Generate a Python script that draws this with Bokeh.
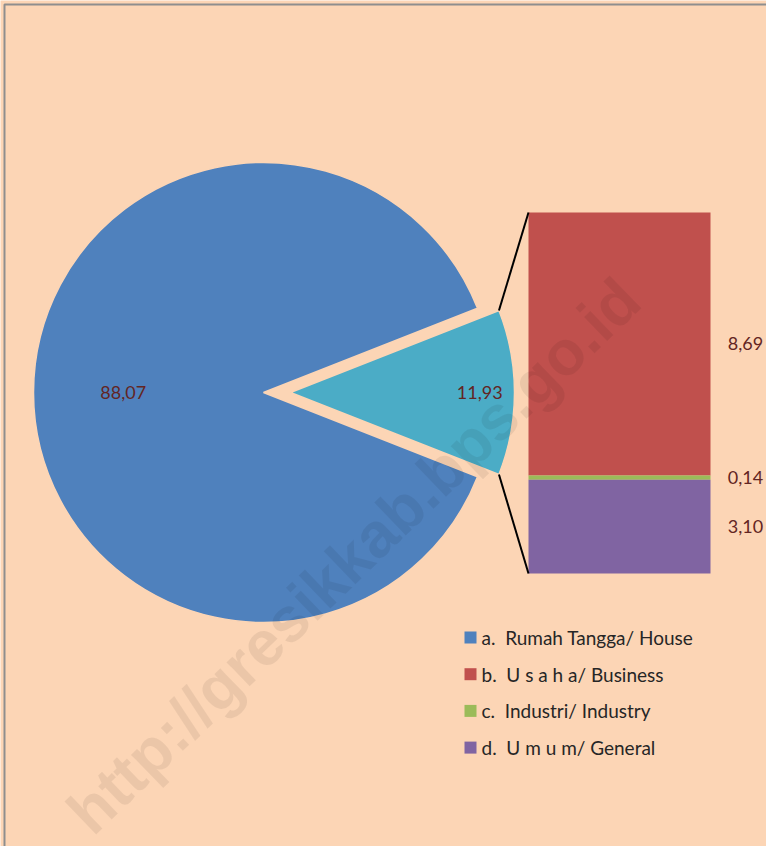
import math
from bokeh.plotting import figure
from bokeh.models import ColumnDataSource, Range1d, BoxAnnotation
from bokeh.core.properties import value
from bokeh.embed import file_html
from bokeh.resources import INLINE

# ---------------- data ----------------
pie_categories = ["Rumah Tangga/ House", "Lainnya/ Others"]
pie_values = [88.07, 11.93]
bar_categories = ["U s a h a/ Business", "Industri/ Industry", "U m u m/ General"]
bar_values = [8.69, 0.14, 3.10]          # top to bottom in the stacked bar
legend_labels = ["a.\u00a0 Rumah Tangga/ House", "b.\u00a0 U s a h a/ Business",
                 "c.\u00a0 Industri/ Industry", "d.\u00a0 U m u m/ General"]
watermark_text = "http://gresikkab.bps.go.id"

# ---------------- styles ----------------
BG = "#FCD5B5"
pie_colors = ["#4F81BD", "#4BACC6"]
bar_colors = ["#C0504D", "#9BBB59", "#8064A2"]
legend_colors = [pie_colors[0]] + bar_colors
LABEL_COLOR = "#632523"
FONT = "Lato"

W, H = 766, 846


def fx(rx):
    return rx


def fy(ry):
    return H - ry


def fmt(v):
    return f"{v:.2f}".replace(".", ",")


p = figure(width=W, height=H, x_range=Range1d(0, W), y_range=Range1d(0, H),
           output_backend="svg", toolbar_location=None, min_border=0)
p.axis.visible = False
p.grid.visible = False
p.outline_line_color = None
p.background_fill_color = BG
p.border_fill_color = BG

# frame border (top and left visible)
p.add_layout(BoxAnnotation(left=fx(4), top=fy(4), right=fx(2000), bottom=fy(2000),
                           fill_color=None, fill_alpha=0, line_color="#8E8E8E",
                           line_alpha=1.0, line_width=2))

# ---------------- pie ----------------
total = sum(pie_values)
half = math.pi * pie_values[1] / total
cx, cy = fx(263), fy(392)
R = 230
explode = 27
r2 = 224
pie_src = ColumnDataSource(dict(
    x=[cx, cx + explode], y=[cy, cy], r=[R, r2],
    start=[half, -half], end=[2 * math.pi - half, half],
    color=pie_colors, cat=pie_categories))
p.wedge(x="x", y="y", radius="r", start_angle="start", end_angle="end",
        fill_color="color", line_color=BG, line_width=1.5, source=pie_src)

# pie labels
pie_lab = ColumnDataSource(dict(
    x=[cx - 0.61 * R, cx + explode + 0.845 * r2], y=[cy, cy],
    t=[fmt(v) for v in pie_values]))
p.text(x="x", y="y", text="t", source=pie_lab, text_align="center",
       text_baseline="middle", text_font=value(FONT), text_font_size="18px",
       text_color=LABEL_COLOR)

# ---------------- stacked bar ----------------
bx0, bx1 = fx(528), fx(710)
btop, bbot = fy(212), fy(573)
scale = (btop - bbot) / sum(bar_values)
tops, bottoms = [], []
acc = btop
for v in bar_values:
    tops.append(acc)
    acc -= v * scale
    bottoms.append(acc)
bar_src = ColumnDataSource(dict(left=[bx0] * 3, right=[bx1] * 3, top=tops,
                                bottom=bottoms, color=bar_colors,
                                cat=bar_categories))
p.quad(left="left", right="right", top="top", bottom="bottom",
       fill_color="color", line_color=None, source=bar_src)

bar_lab = ColumnDataSource(dict(
    x=[fx(745)] * 3, y=[(t + b) / 2 for t, b in zip(tops, bottoms)],
    t=[fmt(v) for v in bar_values]))
p.text(x="x", y="y", text="t", source=bar_lab, text_align="center",
       text_baseline="middle", text_font=value(FONT), text_font_size="18px",
       text_color=LABEL_COLOR)

# connector lines from exploded slice to bar
ex = cx + explode + r2 * math.cos(half)
p.segment(x0=[ex, ex], y0=[cy + r2 * math.sin(half), cy - r2 * math.sin(half)],
          x1=[bx0, bx0], y1=[btop, bbot], line_color="black", line_width=2)

# ---------------- legend ----------------
leg_y = [fy(637 + i * 36.7) for i in range(len(legend_labels))]
p.rect(x=[fx(470)] * 4, y=leg_y, width=12, height=12,
       fill_color=legend_colors, line_color=None)
p.text(x=[fx(481)] * 4, y=leg_y, text=legend_labels, text_align="left",
       text_baseline="middle", text_font=value(FONT), text_font_size="19px",
       text_color="#262626")

# ---------------- watermark ----------------
p.text(x=[fx(353)], y=[fy(555)], text=[watermark_text],
       angle=math.radians(44), text_align="center",
       text_baseline="alphabetic", text_font=value("Liberation Sans"),
       text_font_style="bold", text_font_size="63px",
       text_color="black", text_alpha=0.065)

open("out.html", "w").write(file_html(p, INLINE))
